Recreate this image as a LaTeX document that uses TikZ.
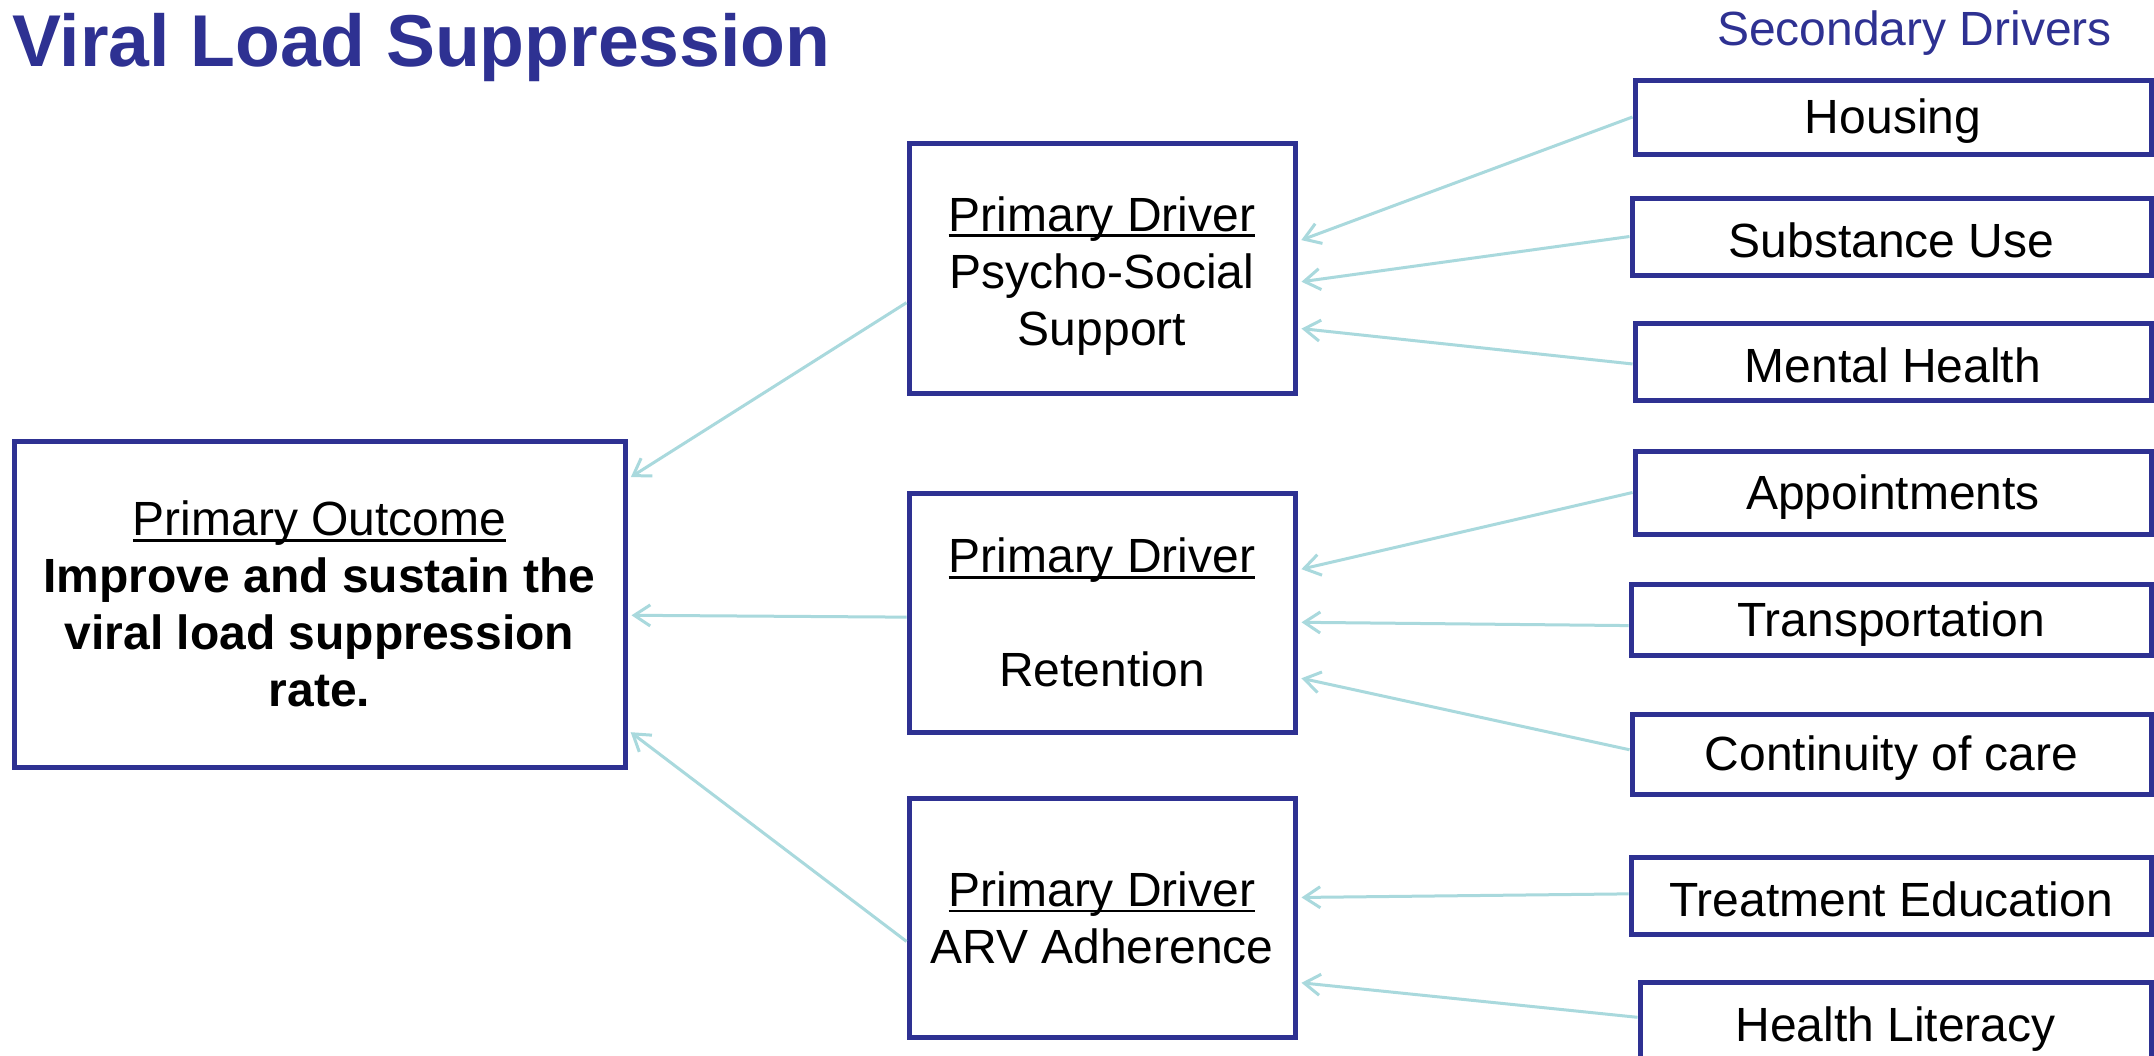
\documentclass[tikz,border=0pt]{standalone}
\usepackage{fontspec}
\setmainfont{Liberation Sans}
\usetikzlibrary{arrows.meta,calc}
\definecolor{navy}{HTML}{2E3192}
\definecolor{conn}{HTML}{A9D9DD}
\newcommand\myul[1]{\setbox0=\hbox{#1}\rlap{\rule[-0.13em]{\wd0}{0.06em}}\box0}
\newcommand\dstrut{\rule{0pt}{43pt}}
\begin{document}
\begin{tikzpicture}[x=1pt,y=-1pt,
  box/.style={draw=navy, line width=5pt, fill=white, inner sep=0pt, align=center,
    font=\fontsize{48}{57}\selectfont, text=black, execute at begin node=\dstrut},
  link/.style={draw=conn, line width=3pt, shorten >=4pt,
    -{Straight Barb[length=16pt,width=21pt]}}]
\fill[white] (0,0) rectangle (2154,1055);
\useasboundingbox (0,0) rectangle (2154,1055);

% titles
\node[anchor=base west, inner sep=0pt, text=navy, font=\fontsize{73.4}{80}\selectfont\bfseries] (title) at (12,66) {Viral Load Suppression};
\node[anchor=base west, inner sep=0pt, text=navy, font=\fontsize{48}{57}\selectfont] (sec) at (1717,45) {Secondary Drivers};

% primary outcome
\node[box, minimum width=611pt, minimum height=326pt] (out) at (319.5,604)
  {\myul{Primary Outcome}\\ \textbf{Improve and sustain the}\\ \textbf{viral load suppression}\\ \textbf{rate.}};

% primary drivers
\node[box, minimum width=386pt, minimum height=250pt] (pd1) at (1102,268)
  {\rule{0pt}{50pt}\myul{Primary Driver}\\ Psycho-Social\\ Support};
\node[box, minimum width=386pt, minimum height=239pt] (pd2) at (1102,612.5)
  {\myul{Primary Driver}\\[57pt] Retention};
\node[box, minimum width=386pt, minimum height=239pt] (pd3) at (1102,917.5)
  {\myul{Primary Driver}\\ ARV Adherence};

% secondary drivers
\node[box, minimum width=516pt, minimum height=74pt] (s1) at (1893,117) {Housing};
\node[box, minimum width=519pt, minimum height=77pt] (s2) at (1891.5,236.5) {Substance Use};
\node[box, minimum width=516pt, minimum height=77pt] (s3) at (1893,361.5) {Mental Health};
\node[box, minimum width=516pt, minimum height=83pt] (s4) at (1893,492.5) {Appointments};
\node[box, minimum width=520pt, minimum height=71pt] (s5) at (1891,619.5) {Transportation};
\node[box, minimum width=519pt, minimum height=80pt] (s6) at (1891.5,754) {Continuity of care};
\node[box, minimum width=520pt, minimum height=77pt] (s7) at (1891,895.5) {Treatment Education};
\node[box, minimum width=511pt, minimum height=85pt] (s8) at (1895.5,1024.5) {Health Literacy};

% connectors: primary drivers -> outcome
\draw[link] ($(pd1.north west)!0.636!(pd1.south west)$) -- ($(out.north east)!0.123!(out.south east)$);
\draw[link] ($(pd2.north west)!0.519!(pd2.south west)$) -- ($(out.north east)!0.534!(out.south east)$);
\draw[link] ($(pd3.north west)!0.598!(pd3.south west)$) -- ($(out.north east)!0.880!(out.south east)$);

% connectors: secondary -> primary
\draw[link] ($(s1.north west)!0.5!(s1.south west)$) -- ($(pd1.north east)!0.396!(pd1.south east)$);
\draw[link] ($(s2.north west)!0.5!(s2.south west)$) -- ($(pd1.north east)!0.556!(pd1.south east)$);
\draw[link] ($(s3.north west)!0.53!(s3.south west)$) -- ($(pd1.north east)!0.736!(pd1.south east)$);
\draw[link] ($(s4.north west)!0.5!(s4.south west)$) -- ($(pd2.north east)!0.326!(pd2.south east)$);
\draw[link] ($(s5.north west)!0.58!(s5.south west)$) -- ($(pd2.north east)!0.54!(pd2.south east)$);
\draw[link] ($(s6.north west)!0.45!(s6.south west)$) -- ($(pd2.north east)!0.766!(pd2.south east)$);
\draw[link] ($(s7.north west)!0.48!(s7.south west)$) -- ($(pd3.north east)!0.418!(pd3.south east)$);
\draw[link] ($(s8.north west)!0.42!(s8.south west)$) -- ($(pd3.north east)!0.766!(pd3.south east)$);
\end{tikzpicture}
\end{document}
